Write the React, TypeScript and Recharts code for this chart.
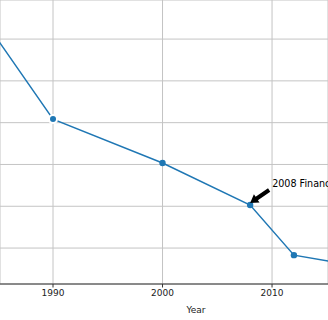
import { LineChart, Line, XAxis, YAxis, CartesianGrid, ReferenceDot } from "recharts"

const years = [1980, 1990, 2000, 2008, 2012, 2020]
const values = [15.7, 8.17, 6.07, 4.06, 1.66, 0.93]
const xTicks = [1990, 2000, 2010]
const yTicks = [2, 4, 6, 8, 10, 12]
const crisisYear = 2008
const crisisLabel = "2008 Financial Crisis"

const data = years.map((year, i) => ({ year, value: values[i] }))
const crisisValue = values[years.indexOf(crisisYear)]

const font = "'DejaVu Sans', sans-serif"

// black matplotlib-style arrow pointing at the crisis point, text to its upper right
function CrisisMarker(props: any) {
  const { cx, cy } = props
  const tipX = cx
  const tipY = cy - 2
  const tailX = cx + 19
  const tailY = cy - 15
  const ang = Math.atan2(tipY - tailY, tipX - tailX)
  const ux = Math.cos(ang)
  const uy = Math.sin(ang)
  const px = -uy
  const py = ux
  const headLen = 8
  const headW = 5
  const shaftW = 2
  const bx = tipX - ux * headLen
  const by = tipY - uy * headLen
  const pts = [
    [tailX + px * shaftW, tailY + py * shaftW],
    [bx + px * shaftW, by + py * shaftW],
    [bx + px * headW, by + py * headW],
    [tipX, tipY],
    [bx - px * headW, by - py * headW],
    [bx - px * shaftW, by - py * shaftW],
    [tailX - px * shaftW, tailY - py * shaftW],
  ]
  return (
    <g>
      <polygon points={pts.map((p) => p.join(",")).join(" ")} fill="#000" />
      <text x={cx + 22} y={cy - 18.5} fontSize={9.6} fontFamily={font} fill="#000">
        {crisisLabel}
      </text>
    </g>
  )
}

export default function App() {
  return (
    <div style={{ position: "absolute", left: 0, top: 0, width: 328, height: 320, background: "#fff", overflow: "hidden" }}>
      <LineChart width={328} height={320} data={data} margin={{ top: 0, right: 0, left: 0, bottom: 0 }}>
        <CartesianGrid stroke="#c4c4c4" strokeWidth={1} />
        <XAxis
          dataKey="year"
          type="number"
          domain={[1985.16, 2015.11]}
          allowDataOverflow
          ticks={xTicks}
          height={36}
          stroke="#333"
          tickSize={3.5}
          tick={{ fontSize: 9, fontFamily: font, fill: "#222" }}
          label={() => (
            <text x={196} y={312.5} textAnchor="middle" fontSize={9} fontFamily={font} fill="#222">
              Year
            </text>
          )}
        />
        <YAxis type="number" domain={[0.28, 13.87]} allowDataOverflow ticks={yTicks} hide />
        <Line
          type="linear"
          dataKey="value"
          stroke="#1f77b4"
          strokeWidth={1.5}
          dot={{ r: 3.2, fill: "#1f77b4", stroke: "#1f77b4", strokeWidth: 0 }}
          isAnimationActive={false}
        />
        <ReferenceDot x={crisisYear} y={crisisValue} shape={CrisisMarker} ifOverflow="visible" />
      </LineChart>
    </div>
  )
}
